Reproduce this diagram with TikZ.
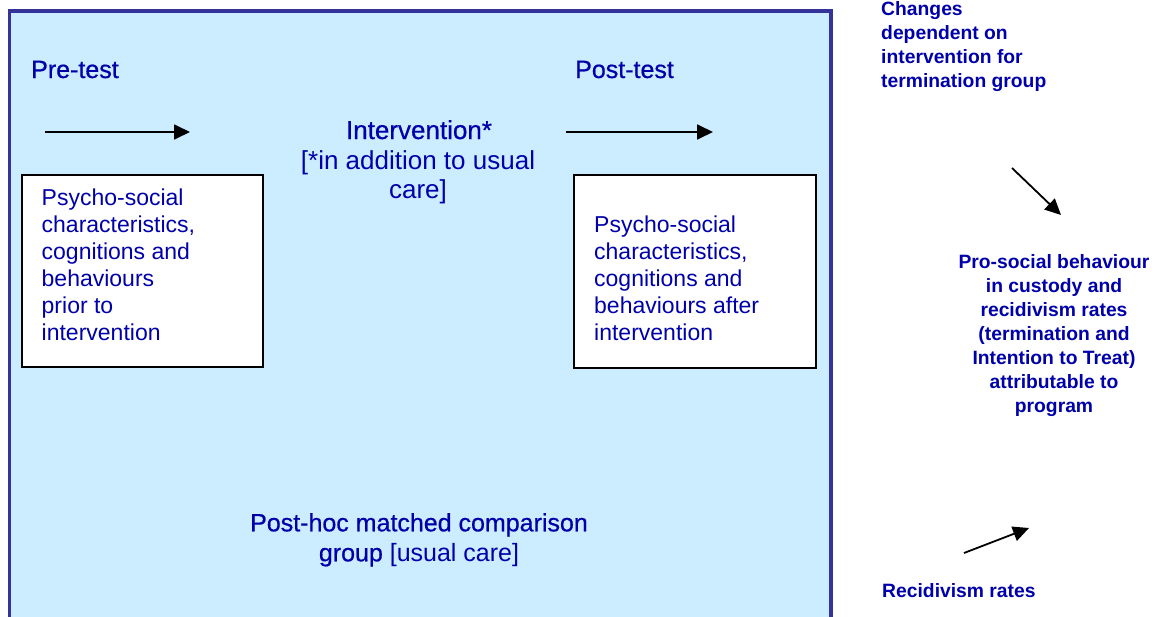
\documentclass[tikz,border=0pt]{standalone}
\usepackage{fontspec}
\setmainfont{Liberation Sans}
\newfontfamily\medfont{Liberation Sans}[FakeBold=0.6]
\usetikzlibrary{arrows.meta}
\definecolor{bgblue}{RGB}{204,236,255}
\definecolor{frameblue}{RGB}{51,51,153}
\definecolor{txtblue}{RGB}{0,0,170}
\begin{document}
\begin{tikzpicture}[x=1pt,y=-1pt,
  heading/.style={inner sep=0pt, text=txtblue, font=\medfont\fontsize{25}{30}\selectfont},
  plain/.style={inner sep=0pt, text=txtblue, font=\fontsize{26}{29.5}\selectfont},
  boxtext/.style={inner sep=0pt, text=txtblue, align=left, font=\fontsize{23}{27}\selectfont},
  result/.style={inner sep=0pt, text=txtblue, font=\bfseries\fontsize{19.3}{24}\selectfont},
  stagebox/.style={draw=black, line width=1.6pt, fill=white, inner sep=0pt},
  flow/.style={line width=1.8pt, -{Triangle[length=16pt,width=15pt]}}]
\clip (0,0) rectangle (1165,616);
\fill[white] (0,0) rectangle (1165,616);
\draw[frameblue, fill=bgblue, line width=3.5pt] (9.5,11) rectangle (831,660);
% boxes
\node[stagebox, anchor=north west, minimum width=241pt, minimum height=192pt] (prebox) at (21,174) {};
\node[stagebox, anchor=north west, minimum width=242pt, minimum height=193pt] (postbox) at (573,174) {};
\node[boxtext, anchor=north west] (pretext) at (41.5,189) {Psycho-social\\characteristics,\\cognitions and\\behaviours\\prior to\\intervention};
\node[boxtext, anchor=north west] (posttext) at (594,216) {Psycho-social\\characteristics,\\cognitions and\\behaviours after\\intervention};
% headings
\node[heading, anchor=base west] (pre) at (31,78) {Pre-test};
\node[heading, anchor=base west] (post) at (575,78) {Post-test};
\node[heading, anchor=north, font=\medfont\fontsize{26}{30}\selectfont] (interv) at (419,120) {Intervention*};
\node[plain, align=center, anchor=north] (intervnote) at (418,150) {[*in addition to usual\\care]};
\node[heading, align=center, anchor=north] (posthoc) at (419,513) {Post-hoc matched comparison\\group {\rmfamily [usual care]}};
% right-hand results
\node[result, align=left, anchor=north west] (changes) at (881,1) {Changes\\dependent on\\intervention for\\termination group};
\node[result, align=center, anchor=north] (prosocial) at (1054,254) {Pro-social behaviour\\in custody and\\recidivism rates\\(termination and\\Intention to Treat)\\attributable to\\program};
\node[result, anchor=base west] (recid) at (882,597) {Recidivism rates};
% arrows
\coordinate (a1s) at (45,132);
\coordinate (a1e) at (190,132);
\coordinate (a2s) at (566,132);
\coordinate (a2e) at (713,132);
\coordinate (a3s) at (1012,168);
\coordinate (a3e) at (1061,215);
\coordinate (a4s) at (964,553);
\coordinate (a4e) at (1029,528);
\draw[flow] (a1s) -- (a1e);
\draw[flow] (a2s) -- (a2e);
\draw[flow] (a3s) -- (a3e);
\draw[flow] (a4s) -- (a4e);
\end{tikzpicture}
\end{document}
